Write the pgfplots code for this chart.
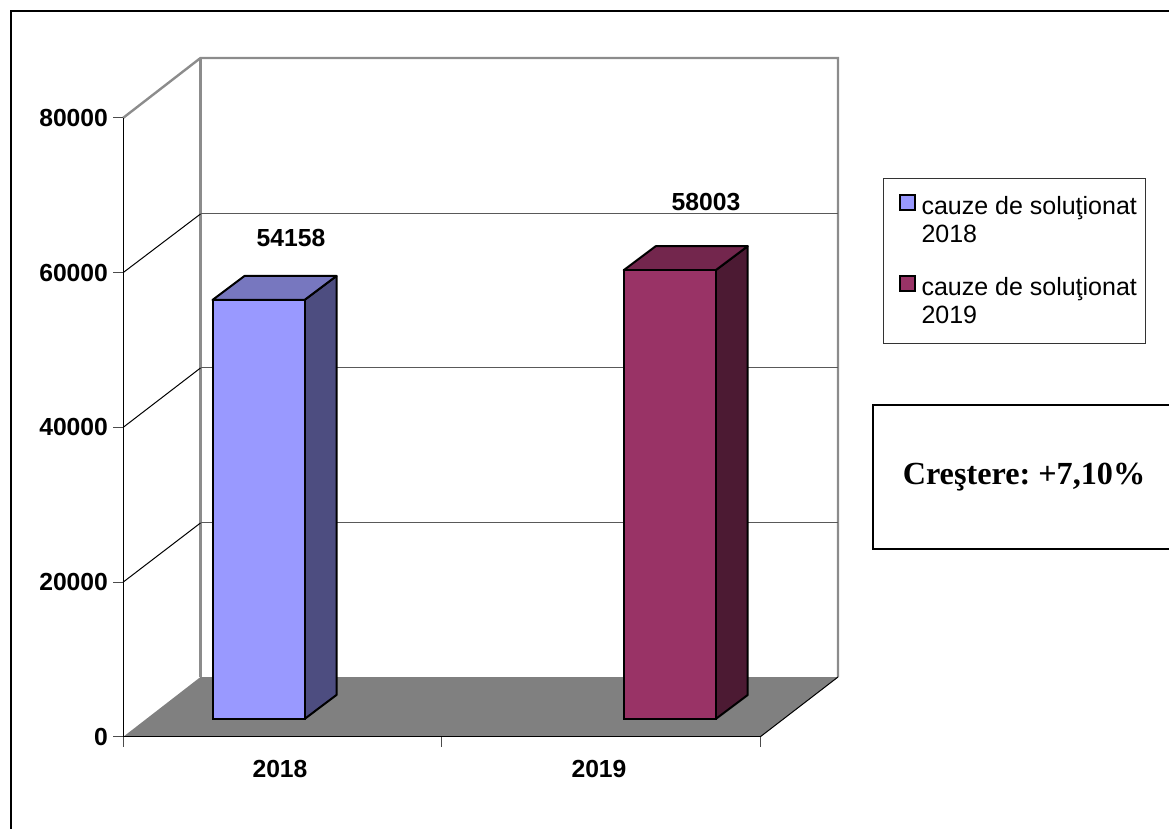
\documentclass[border=0pt]{standalone}
\usepackage{fontspec}
\setmainfont{Liberation Sans}
\newfontfamily\timesbold[BoldFont={Liberation Serif Bold}]{Liberation Serif}
\usepackage{pgfplots}
\pgfplotsset{compat=1.18}
\definecolor{barA}{HTML}{9999FF}
\definecolor{barAs}{HTML}{4D4D80}
\definecolor{barAt}{HTML}{7777BF}
\definecolor{barB}{HTML}{993366}
\definecolor{barBs}{HTML}{4C1A33}
\definecolor{barBt}{HTML}{73264D}
\definecolor{wallgray}{HTML}{8C8C8C}
\begin{document}
\frenchspacing
\begin{tikzpicture}[x=1pt,y=1pt]
\useasboundingbox (0,0) rectangle (1169,829);
\draw[black,line width=1.4pt] (11,0) -- (11,818) -- (1169,818);
\draw[black,line width=1.7pt] (1169,424) -- (873,424) -- (873,280) -- (1169,280);
\node[font=\timesbold\bfseries\fontsize{32.2}{36}\selectfont,anchor=center] at (1024,352) {Creştere: +7,10\%};
\begin{axis}[
  at={(123pt,92pt)}, anchor=south west,
  scale only axis, width=637pt, height=619pt,
  xmin=123, xmax=760, ymin=0, ymax=80000,
  clip=false, axis on top=true,
  axis x line*=bottom, axis y line*=left,
  axis line style={black,line width=1pt},
  tick align=outside, major tick length=10pt,
  tick style={black!70,line width=1pt},
  scaled y ticks=false,
  ytick={0,20000,40000,60000,80000},
  xtick={123,441.5,760}, xticklabels={},
  extra x ticks={280,599}, extra x tick labels={2018,2019},
  extra x tick style={major tick length=0pt, xticklabel style={yshift=-20pt}},
  /pgf/number format/1000 sep={},
  /pgf/number format/assume math mode=true,
  ticklabel style={font=\bfseries\fontsize{24.7}{28}\selectfont},
  yticklabel style={xshift=-1.5pt},
  legend style={at={(axis cs:883,72245)},anchor=north west,draw=black!80,line width=1pt,
    inner xsep=6pt,inner ysep=15pt,row sep=27.5pt,column sep=0pt,
    nodes={align=left,inner sep=3pt,font=\fontsize{25}{28}\selectfont}},
  legend cell align=left,
  legend image code/.code={\draw[#1,line width=2pt] (10pt,10pt) rectangle (25pt,25pt);\path[draw=none,fill=none] (0pt,12pt) rectangle (29pt,13pt);},
  every axis plot/.append style={forget plot},
]
% back wall
\addplot[wallgray,line width=2.4pt] coordinates {(123,80000)(200.5,87754)(838,87754)(838,7754)};
\addplot[wallgray,line width=2.4pt] coordinates {(200.5,87754)(200.5,7754)};
% grid on the walls
\addplot[black!65,line width=1pt] coordinates {(200.5,27660)(838,27660)};
\addplot[black!65,line width=1pt] coordinates {(200.5,47690)(838,47690)};
\addplot[black!65,line width=1pt] coordinates {(200.5,67593)(838,67593)};
\addplot[black,line width=1pt] coordinates {(123,20000)(200.5,27660)};
\addplot[black,line width=1pt] coordinates {(123,40000)(200.5,47690)};
\addplot[black,line width=1pt] coordinates {(123,60000)(200.5,67593)};
% floor
\addplot[fill=black!50,draw=none] coordinates {(123,0)(200.5,7754)(838,7754)(760,0)} -- cycle;
\addplot[black,line width=1pt] coordinates {(838,7754)(760,0)};
% 2018
\addplot[fill=barAs,draw=black,line width=2pt,line join=round,yshift=18pt] coordinates {(304.5,0)(304.5,54158)(336.5,57260)(336.5,3102)} -- cycle;
\addplot[fill=barAt,draw=black,line width=2pt,line join=round,yshift=18pt] coordinates {(212.5,54158)(244.5,57260)(336.5,57260)(304.5,54158)} -- cycle;
\addplot[ybar,bar width=92pt,bar shift=0pt,fill=barA,draw=black,line width=2pt,yshift=18pt] coordinates {(258.5,54158)};
% 2019
\addplot[fill=barBs,draw=black,line width=2pt,line join=round,yshift=18pt] coordinates {(715.7,0)(715.7,58003)(747.7,61105)(747.7,3102)} -- cycle;
\addplot[fill=barBt,draw=black,line width=2pt,line join=round,yshift=18pt] coordinates {(623.7,58003)(655.7,61105)(747.7,61105)(715.7,58003)} -- cycle;
\addplot[ybar,bar width=92pt,bar shift=0pt,fill=barB,draw=black,line width=2pt,yshift=18pt] coordinates {(669.7,58003)};
% value labels
\addplot[draw=none,mark=none,nodes near coords,point meta=y,
  nodes near coords align={anchor=center},
  every node near coord/.append style={yshift=80pt,font=\bfseries\fontsize{24.7}{28}\selectfont,/pgf/number format/1000 sep={}}]
  coordinates {(291,54158)};
\addplot[draw=none,mark=none,nodes near coords,point meta=y,
  nodes near coords align={anchor=center},
  every node near coord/.append style={yshift=86pt,font=\bfseries\fontsize{24.7}{28}\selectfont,/pgf/number format/1000 sep={}}]
  coordinates {(706,58003)};
\addlegendimage{fill=barA,draw=black}
\addlegendentry{cauze de soluţionat\\2018}
\addlegendimage{fill=barB,draw=black}
\addlegendentry{cauze de soluţionat\\2019}
\end{axis}
\end{tikzpicture}
\end{document}
